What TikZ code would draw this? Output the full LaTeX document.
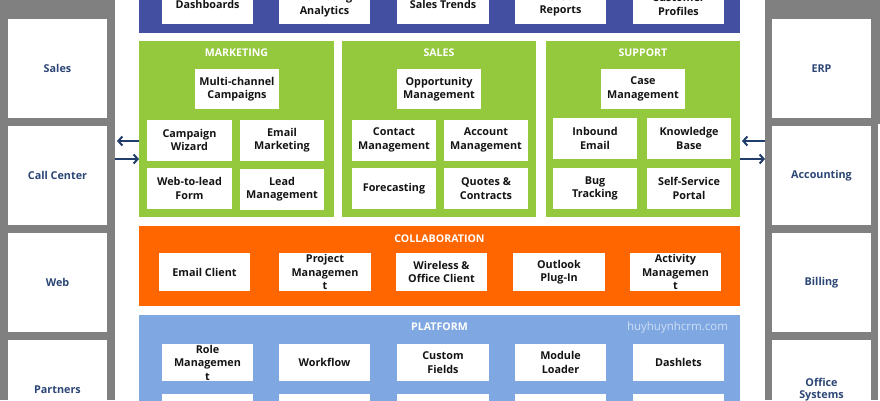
\documentclass[tikz,border=0pt]{standalone}
\usepackage{fontspec}
\setmainfont{Open Sans}
\usetikzlibrary{arrows.meta}

\definecolor{greyside}{HTML}{808080}
\definecolor{navypanel}{HTML}{4350A1}
\definecolor{greenpanel}{HTML}{94C83D}
\definecolor{orangepanel}{HTML}{FF6600}
\definecolor{bluepanel}{HTML}{7FA8E2}
\definecolor{sidetext}{HTML}{2C4675}
\definecolor{arrowblue}{HTML}{213D6B}
\definecolor{boxtext}{HTML}{141414}
\definecolor{weblabel}{HTML}{CFDFF5}

\begin{document}
\begin{tikzpicture}[x=1pt,y=-1pt,
  panel/.style={inner sep=0pt, outer sep=0pt},
  sz/.style 2 args={minimum width=#1pt, minimum height=#2pt},
  wbox/.style={fill=white, inner sep=0pt, outer sep=0pt, align=center,
    text=boxtext, font=\bfseries\fontsize{10.8}{13.5}\selectfont},
  sidebox/.style={fill=white, inner sep=0pt, outer sep=0pt, sz={99}{99},
    align=center, text=sidetext, font=\bfseries\fontsize{10.8}{12.5}\selectfont},
  paneltitle/.style={text=white, inner sep=0pt, font=\bfseries\fontsize{10.6}{13}\selectfont},
  flow/.style={arrowblue, line width=2pt, -{Straight Barb[length=4pt,width=9pt]}}]

\useasboundingbox (0,0) rectangle (880,400);
\clip (0,0) rectangle (880,400);

% side columns with external systems
\node[panel, fill=greyside, sz={115}{400}] (lcol) at (57.5,200) {};
\node[panel, fill=greyside, sz={115}{400}] (rcol) at (822.5,200) {};
\node[panel, fill=white, sz={2}{280}] (redge) at (879,264) {};

\node[sidebox] (sales) at (57.5,68.5) {Sales};
\node[sidebox] (callc) at (57.5,175.5) {Call Center};
\node[sidebox] (web)   at (57.5,282.5) {Web};
\node[sidebox] (partn) at (57.5,389.5) {Partners};

\node[sidebox] (erp)   at (821.5,68.5) {ERP};
\node[sidebox] (acct)  at (821.5,175.5) {Accounting};
\node[sidebox] (bill)  at (821.5,282.5) {Billing};
\node[sidebox] (offs)  at (821.5,389.5) {Office\\Systems};

% analytics band
\node[panel, fill=navypanel, sz={601}{53}] (analytics) at (439.5,6.5) {};
\node[wbox, sz={91}{39}] (dash)  at (207.5,4.5) {Dashboards};
\node[wbox, sz={91}{39}] (mana)  at (324.5,4.5) {Marketing\\Analytics};
\node[wbox, sz={92}{39}] (strd)  at (443,4.5)   {Sales Trends};
\node[wbox, sz={91}{39}] (crep)  at (560.5,4.5) {Case\\Reports};
\node[wbox, sz={91}{39}] (cprof) at (678.5,4.5) {Customer\\Profiles};

% marketing
\node[panel, fill=greenpanel, sz={195}{176}] (mkt) at (236.5,129) {};
\node[paneltitle] (mktt) at (236.5,53) {MARKETING};
\node[wbox, sz={84}{40}] (mcc) at (237,89)    {Multi-channel\\Campaigns};
\node[wbox, sz={85}{41}] (cwz) at (189.5,140) {Campaign\\Wizard};
\node[wbox, sz={84}{41}] (emk) at (282,140)   {Email\\Marketing};
\node[wbox, sz={85}{41}] (wtl) at (189.5,188.5) {Web-to-lead\\Form};
\node[wbox, sz={84}{41}] (lmg) at (282,189)   {Lead\\Management};

% sales
\node[panel, fill=greenpanel, sz={194}{176}] (sls) at (439,129) {};
\node[paneltitle] (slst) at (439,53) {SALES};
\node[wbox, sz={84}{40}] (opm) at (439,89)    {Opportunity\\Management};
\node[wbox, sz={84}{41}] (ctm) at (394,140)   {Contact\\Management};
\node[wbox, sz={84}{41}] (acm) at (486,140)   {Account\\Management};
\node[wbox, sz={84}{41}] (fct) at (394,188.5) {Forecasting};
\node[wbox, sz={84}{41}] (qct) at (486,188.5) {Quotes \&\\Contracts};

% support
\node[panel, fill=greenpanel, sz={194}{176}] (sup) at (643,129) {};
\node[paneltitle] (supt) at (643,53) {SUPPORT};
\node[wbox, sz={84}{40}] (csm) at (643,89)    {Case\\Management};
\node[wbox, sz={84}{41}] (ibe) at (595,138.5) {Inbound\\Email};
\node[wbox, sz={84}{41}] (kbs) at (689,138.5) {Knowledge\\Base};
\node[wbox, sz={84}{41}] (bgt) at (595,188.5) {Bug\\Tracking};
\node[wbox, sz={84}{41}] (ssp) at (689,188.5) {Self-Service\\Portal};

% collaboration
\node[panel, fill=orangepanel, sz={601}{80}] (collab) at (439.5,266) {};
\node[paneltitle] (collabt) at (439.5,239) {COLLABORATION};
\node[wbox, sz={91}{38}] (emc) at (204.5,272) {Email Client};
\node[wbox, sz={92}{38}] (prm) at (325,272)   {Project\\Managemen\\t};
\node[wbox, sz={91}{38}] (woc) at (441.5,272) {Wireless \&\\Office Client};
\node[wbox, sz={92}{38}] (olp) at (559,272)   {Outlook\\Plug-In};
\node[wbox, sz={91}{38}] (acv) at (675.5,272) {Activity\\Managemen\\t};

% platform
\node[panel, fill=bluepanel, sz={601}{110}] (plat) at (439.5,370) {};
\node[paneltitle] (platt) at (439.5,327) {PLATFORM};
\node[inner sep=0pt, text=weblabel, font=\fontsize{11.5}{13}\selectfont] (site) at (677.5,328) {huyhuynhcrm.com};
\node[wbox, sz={91}{37}] (rlm) at (207.5,362.5) {Role\\Managemen\\t};
\node[wbox, sz={91}{37}] (wkf) at (324.5,362.5) {Workflow};
\node[wbox, sz={92}{37}] (cfd) at (443,362.5)   {Custom\\Fields};
\node[wbox, sz={91}{37}] (mld) at (560.5,362.5) {Module\\Loader};
\node[wbox, sz={91}{37}] (dsh) at (678.5,362.5) {Dashlets};
\node[wbox, sz={91}{37}] (p21) at (207.5,412) {};
\node[wbox, sz={91}{37}] (p22) at (324.5,412) {};
\node[wbox, sz={92}{37}] (p23) at (443,412)   {};
\node[wbox, sz={91}{37}] (p24) at (560.5,412) {};
\node[wbox, sz={91}{37}] (p25) at (678.5,412) {};

% data exchange with external systems
\draw[flow] (mkt.west |- 0,141) -- ([xshift=2pt]lcol.east |- 0,141);
\draw[flow] (lcol.east |- 0,159) -- (mkt.west |- 0,159);
\draw[flow] (rcol.west |- 0,141) -- ([xshift=2pt]sup.east |- 0,141);
\draw[flow] (sup.east |- 0,159) -- (rcol.west |- 0,159);
\end{tikzpicture}
\end{document}
